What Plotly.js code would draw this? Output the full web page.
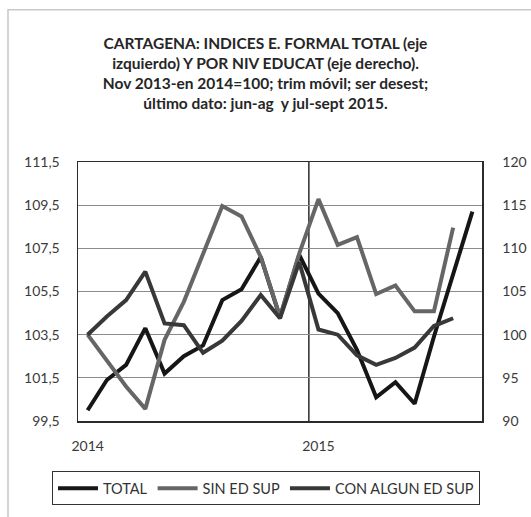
<!DOCTYPE html>
<html>
<head>
<meta charset="utf-8">
<script src="https://cdn.plot.ly/plotly-3.0.1.min.js"></script>
<style>
  html, body { margin: 0; padding: 0; background: #ffffff; }
  #chart { width: 531px; height: 517px; }
</style>
</head>
<body>
<div id="chart"></div>
<script>
// Categories: 3-month moving windows ending Jan 2014 ... Sep 2015
const months = ["ene-14","feb-14","mar-14","abr-14","may-14","jun-14","jul-14","ago-14","sep-14","oct-14","nov-14","dic-14",
                "ene-15","feb-15","mar-15","abr-15","may-15","jun-15","jul-15","ago-15","sep-15"];
const xTickVals = ["ene-14", "ene-15"];
const xTickText = ["2014", "2015"];
const yearBreak = "ene-15";

// TOTAL (left axis)
const total = [100.0, 101.4, 102.1, 103.8, 101.7, 102.5, 103.0, 105.1, 105.6, 107.1, 104.3, 107.2,
               105.4, 104.5, 102.8, 100.6, 101.3, 100.3, 103.4, 106.3, 109.2];
// SIN ED SUP (right axis)
const sinEdSup = [100.0, 97.0, 94.0, 91.4, 99.4, 103.8, 109.3, 114.9, 113.7, 109.0, 102.1, 109.4,
                  115.7, 110.4, 111.3, 104.7, 105.7, 102.7, 102.7, 112.4, null];
// CON ALGUN ED SUP (right axis)
const conAlgun = [100.0, 102.1, 104.0, 107.3, 101.3, 101.1, 97.9, 99.3, 101.6, 104.6, 101.9, 108.4,
                  100.6, 100.0, 97.6, 96.5, 97.3, 98.5, 101.0, 101.9, null];

const names = ["TOTAL", "SIN ED SUP", "CON ALGUN ED SUP"];

const titleLines = [
  "CARTAGENA: INDICES E. FORMAL TOTAL (eje",
  "izquierdo) Y POR NIV EDUCAT (eje derecho).",
  "Nov 2013-en 2014=100; trim móvil; ser desest;",
  "último dato: jun-ag  y jul-sept 2015."
];

const font = "Lato, 'Open Sans', 'Liberation Sans', sans-serif";

const traces = [
  {x: months, y: total, name: names[0], type: "scatter", mode: "lines", yaxis: "y",
   line: {color: "#161616", width: 4}},
  {x: months, y: sinEdSup, name: names[1], type: "scatter", mode: "lines", yaxis: "y2",
   line: {color: "#666666", width: 4}},
  {x: months, y: conAlgun, name: names[2], type: "scatter", mode: "lines", yaxis: "y2",
   line: {color: "#383838", width: 4}}
];

const breakIdx = months.indexOf(yearBreak) - 0.5;

const layout = {
  width: 531, height: 517,
  margin: {l: 78, r: 49, t: 162, b: 93},
  paper_bgcolor: "#ffffff", plot_bgcolor: "#ffffff",
  separators: ",.",
  font: {family: font, size: 14, color: "#3a3a3a"},
  title: {
    text: "<b>" + titleLines.join("<br>") + "</b>",
    font: {family: font, size: 15.5, color: "#262626"},
    x: 0.5, xref: "container", xanchor: "center",
    y: 1 - 49/517, yref: "container", yanchor: "top"
  },
  showlegend: true,
  legend: {
    orientation: "h", xref: "paper", yref: "paper",
    x: (52 - 78) / 404, xanchor: "left", y: (424 - 475) / 262, yanchor: "top",
    bordercolor: "#333333", borderwidth: 1, bgcolor: "#ffffff",
    font: {family: font, size: 14.5, color: "#333333"},
    traceorder: "normal", itemwidth: 40, tracegroupgap: 0
  },
  xaxis: {
    type: "category", range: [-0.5, months.length - 0.5],
    tickmode: "array", tickvals: xTickVals, ticktext: xTickText,
    ticks: "", ticklabelstandoff: 12,
    showgrid: false, zeroline: false,
    showline: true, mirror: true, linecolor: "#2b2b2b", linewidth: 1.5,
    tickfont: {family: font, size: 14, color: "#3a3a3a"}
  },
  yaxis: {
    range: [99.5, 111.5], tick0: 99.5, dtick: 2, tickformat: ".1f",
    ticks: "", ticklabelstandoff: 14,
    showgrid: true, gridcolor: "#8c8c8c", gridwidth: 1, griddash: "solid",
    zeroline: false, showline: true, linecolor: "#2b2b2b", linewidth: 1.5,
    tickfont: {family: font, size: 14, color: "#3a3a3a"}
  },
  yaxis2: {
    range: [90, 120], tick0: 90, dtick: 5, overlaying: "y", side: "right",
    ticks: "", ticklabelstandoff: 16,
    showgrid: false, zeroline: false, showline: true, linecolor: "#2b2b2b", linewidth: 1.5,
    tickfont: {family: font, size: 14, color: "#3a3a3a"}
  },
  shapes: [
    {type: "line", xref: "x", yref: "paper", x0: breakIdx, x1: breakIdx, y0: 0, y1: 1,
     line: {color: "#2b2b2b", width: 1.5}, layer: "below"},
    {type: "rect", xref: "paper", yref: "paper",
     x0: (8 - 78) / 404, x1: (540 - 78) / 404, y0: (424 - 530) / 262, y1: (424 - 8) / 262,
     line: {color: "#c8c8c8", width: 1.5}, layer: "below"}
  ]
};

Plotly.newPlot("chart", traces, layout, {displayModeBar: false, staticPlot: true});
</script>
</body>
</html>
